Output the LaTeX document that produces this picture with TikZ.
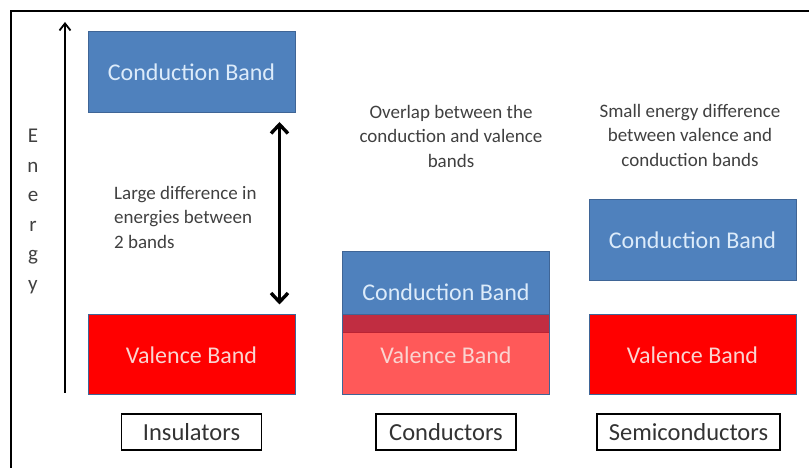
\documentclass[tikz,border=0pt]{standalone}
\usepackage{fontspec}
\setmainfont{Carlito}
\usetikzlibrary{arrows.meta,positioning}
\definecolor{bandblue}{HTML}{4F81BD}
\definecolor{bandedge}{HTML}{3F6596}
\definecolor{bandred}{HTML}{FF0000}
\definecolor{bluetext}{HTML}{DCEBFA}
\definecolor{redtext}{HTML}{FAD4D0}
\definecolor{notegray}{HTML}{404040}
\tikzset{
    %Define style for the energy bands
    cband/.style={
           rectangle,
           fill=bandblue,
           draw=bandedge, line width=1pt,
           minimum width=207pt,
           minimum height=81pt,
           inner sep=0pt,
           text=bluetext,
           font=\fontsize{24}{28}\selectfont},
    vband/.style={
           cband,
           fill=bandred,
           minimum height=80pt,
           text=redtext},
    %Define style for material labels
    kindbox/.style={
           rectangle,
           draw=black, line width=1.6pt,
           minimum height=36pt,
           inner sep=0pt,
           text=black!80,
           font=\fontsize{24.5}{28}\selectfont},
    remark/.style={
           text=notegray,
           inner sep=0pt,
           font=\fontsize{19}{24.5}\selectfont},
    letter/.style={
           text=notegray,
           anchor=base,
           font=\fontsize{21}{24}\selectfont},
    % Define arrow styles
    axis/.style={
           -{Straight Barb[length=7pt,width=11pt]},
           line width=1.8pt},
    gaparrow/.style={
           {Straight Barb[length=9pt,width=17pt]}-{Straight Barb[length=9pt,width=17pt]},
           line width=3.4pt}
}
\begin{document}
\begin{tikzpicture}[x=1pt,y=1pt,node distance=18pt]
\useasboundingbox (0,0) rectangle (809,468);
\draw[line width=2pt] (809,457) -- (11,457) -- (11,0);

 %energy axis
\coordinate (ax0) at (65,75);
\coordinate (ax1) at (65,446);
\draw[axis] (ax0) -- (ax1);
\foreach \ch [count=\i] in {E,n,e,r,g,y}
    \node[letter] (en\i) at (33,{325-29.5*(\i-1)}) {\ch};

 %insulators
\node[cband](icb) at (191.5,396){Conduction Band};
\node[vband](ivb) at (191.5,113){Valence Band};
\node[kindbox, minimum width=140pt, below=of ivb](ins){Insulators};
\draw[gaparrow, shorten <=9pt, shorten >=10pt] ([xshift=88pt]icb.south) -- ([xshift=88pt]ivb.north);
\node[remark, align=left, anchor=west](big) at (114,251){Large difference in\\energies between\\2 bands};

 %conductors
\node[cband](ccb) at (446,175.5){Conduction Band};
\node[vband, fill opacity=0.65, text opacity=1](cvb) at (446,113){Valence Band};
\node[kindbox, minimum width=140pt, below=of cvb](con){Conductors};
\node[remark, align=center](olap) at (451,332){Overlap between the\\conduction and  valence\\bands};

 %semiconductors
\node[cband](scb) at (692.5,228){Conduction Band};
\node[vband](svb) at (692.5,113){Valence Band};
\node[kindbox, minimum width=183pt, below=of svb, xshift=-4pt](sem){Semiconductors};
\node[remark, align=center](small) at (690,333){Small energy difference\\between valence and\\conduction bands};

\end{tikzpicture}
\end{document}
